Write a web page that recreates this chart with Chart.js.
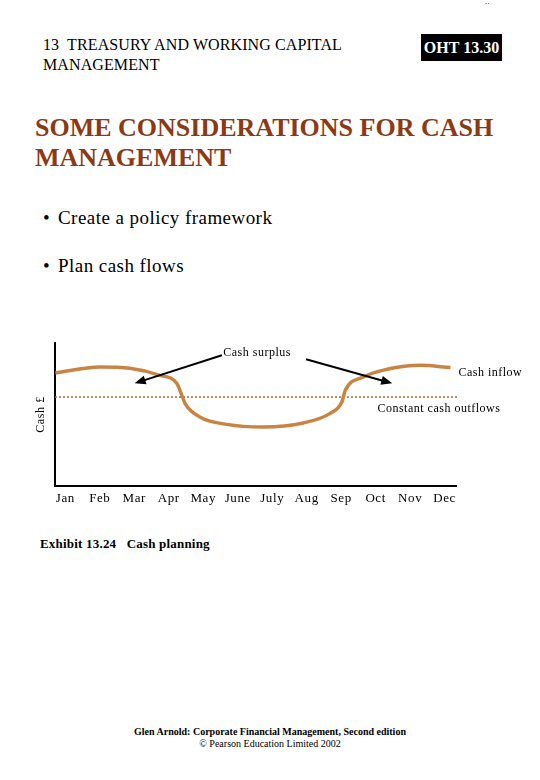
<!DOCTYPE html>
<html>
<head>
<meta charset="utf-8">
<script src="https://cdn.jsdelivr.net/npm/chart.js@4.4.1/dist/chart.umd.min.js"></script>
<style>
  html, body { margin:0; padding:0; background:#fff; }
  body { width:540px; height:780px; position:relative; overflow:hidden; font-family:"Liberation Serif","Times New Roman",serif; color:#000; }
  .abs { position:absolute; white-space:nowrap; }
  #hdr { left:43px; top:35px; font-size:16px; line-height:19.5px; letter-spacing:0.1px; }
  #oht { left:421px; top:34px; width:81px; height:27px; background:#000; color:#fff; font-weight:bold; font-size:16px; line-height:27px; text-align:center; }
  #dots { left:485px; top:-4px; font-size:9px; }
  #title { left:35px; top:113px; font-size:26px; line-height:30px; font-weight:bold; color:#8b3a16; }
  .bul { left:43px; font-size:19px; line-height:24px; letter-spacing:0.45px; }
  .bul span { display:inline-block; width:15px; }
  #exh { left:40px; top:536px; font-size:13px; font-weight:bold; letter-spacing:0.2px; }
  #foot { left:0; width:540px; top:726px; text-align:center; font-size:10px; line-height:12px; }
  #chartBox { position:absolute; left:0; top:330px; width:540px; height:190px; }
</style>
</head>
<body>
<div class="abs" id="dots">..</div>
<div class="abs" id="hdr">13&nbsp; TREASURY AND WORKING CAPITAL<br>MANAGEMENT</div>
<div class="abs" id="oht">OHT 13.30</div>
<div class="abs" id="title">SOME CONSIDERATIONS FOR CASH<br>MANAGEMENT</div>
<div class="abs bul" style="top:206px"><span>•</span>Create a policy framework</div>
<div class="abs bul" style="top:254px"><span>•</span>Plan cash flows</div>
<div id="chartBox"><canvas id="c" width="540" height="190"></canvas></div>
<div class="abs" id="exh">Exhibit 13.24&nbsp;&nbsp; Cash planning</div>
<div class="abs" id="foot"><b>Glen Arnold: Corporate Financial Management, Second edition</b><br>© Pearson Education Limited 2002</div>
<script>
const months = ['Jan','Feb','Mar','Apr','May','June','July','Aug','Sep','Oct','Nov','Dec'];
const inflowX = [-0.29, 1.0, 1.87, 2.74, 3.23, 3.38, 3.47, 3.90, 4.68, 5.74, 6.90, 7.68, 8.02, 8.12, 8.64, 9.33, 10.30, 11.17];
const inflowY = [79.0, 83.2, 82.3, 77.4, 71.8, 63.4, 57.8, 48.3, 43.1, 41.3, 44.1, 50.8, 58.7, 66.9, 76.2, 81.6, 84.4, 82.8];
const outflowX = [-0.3, 11.38];
const outflowY = [62.2, 62.2];

const serif = "'Liberation Serif','Times New Roman',serif";

const spacing = {
  id: 'spacing',
  beforeDraw(chart) { chart.ctx.letterSpacing = '0.6px'; }
};

const notes = {
  id: 'notes',
  afterDraw(chart) {
    const ctx = chart.ctx, xs = chart.scales.x, ys = chart.scales.y;
    const P = (x, y) => [xs.getPixelForValue(x), ys.getPixelForValue(y)];
    ctx.save();
    ctx.letterSpacing = '0.5px';
    ctx.fillStyle = '#000';
    ctx.textBaseline = 'middle';
    ctx.font = "12px " + serif;
    let p = P(5.56, 92.8);
    ctx.textAlign = 'center';
    ctx.fillText('Cash surplus', p[0], p[1]);
    ctx.textAlign = 'left';
    p = P(11.4, 78.8);
    ctx.fillText('Cash inflow', p[0], p[1]);
    p = P(9.05, 54.3);
    ctx.fillText('Constant cash outflows', p[0], p[1]);
    const arrow = (a, b) => {
      const [x1, y1] = P(a[0], a[1]), [x2, y2] = P(b[0], b[1]);
      const ang = Math.atan2(y2 - y1, x2 - x1), L = 11, W = 4.5;
      ctx.strokeStyle = '#000'; ctx.lineWidth = 2;
      ctx.beginPath(); ctx.moveTo(x1, y1);
      ctx.lineTo(x2 - Math.cos(ang) * L * 0.8, y2 - Math.sin(ang) * L * 0.8); ctx.stroke();
      ctx.beginPath();
      ctx.moveTo(x2, y2);
      ctx.lineTo(x2 - Math.cos(ang) * L - Math.sin(ang) * W, y2 - Math.sin(ang) * L + Math.cos(ang) * W);
      ctx.lineTo(x2 - Math.cos(ang) * L + Math.sin(ang) * W, y2 - Math.sin(ang) * L - Math.cos(ang) * W);
      ctx.closePath(); ctx.fill();
    };
    arrow([4.54, 91.4], [2.01, 71.8]);
    arrow([6.98, 88.6], [9.48, 71.8]);
    ctx.restore();
  }
};

new Chart(document.getElementById('c'), {
  type: 'line',
  data: {
    datasets: [
      {
        label: 'Cash inflow',
        data: inflowX.map((x, i) => ({ x, y: inflowY[i] })),
        borderColor: '#c98443',
        borderWidth: 3.5,
        pointRadius: 0,
        cubicInterpolationMode: 'monotone',
        fill: false,
        clip: false
      },
      {
        label: 'Constant cash outflows',
        data: outflowX.map((x, i) => ({ x, y: outflowY[i] })),
        borderColor: '#b4622c',
        borderWidth: 1.5,
        borderDash: [2, 2],
        pointRadius: 0,
        fill: false,
        clip: false
      }
    ]
  },
  options: {
    responsive: false,
    animation: false,
    events: [],
    layout: { padding: { left: 0, right: 84, top: 13, bottom: 0 } },
    plugins: { legend: { display: false }, tooltip: { enabled: false } },
    scales: {
      x: {
        type: 'linear',
        min: -0.3,
        max: 11.33,
        afterBuildTicks: s => { s.ticks = months.map((m, i) => ({ value: i })); },
        afterFit: s => { s.height = 34; },
        grid: { display: false, drawTicks: false },
        border: { display: true, color: '#000', width: 2 },
        ticks: {
          color: '#000',
          padding: 5,
          maxRotation: 0,
          autoSkip: false,
          font: { family: serif, size: 13 },
          callback: v => months[v] ?? ''
        }
      },
      y: {
        min: 0,
        max: 100,
        afterFit: s => { s.width = 55; },
        grid: { display: false, drawTicks: false },
        border: { display: true, color: '#000', width: 2 },
        ticks: { display: false },
        title: {
          display: true,
          text: 'Cash £',
          color: '#000',
          font: { family: serif, size: 12 },
          padding: { top: 34, bottom: 0 }
        }
      }
    }
  },
  plugins: [spacing, notes]
});
</script>
</body>
</html>
